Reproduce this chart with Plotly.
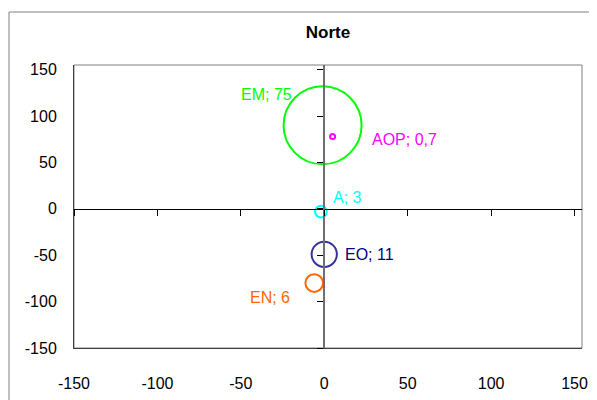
import plotly.graph_objects as go

# ---- data ----
names = ["EM", "AOP", "A", "EO", "EN"]
x_vals = [-1, 5, -2, 0, -6]
y_vals = [90, 78, -3, -49, -80]
sizes = [75, 0.7, 3, 11, 6]
tick_vals = [-150, -100, -50, 0, 50, 100, 150]
tick_text = ["-150", "-100", "-50", "0", "50", "100", "150"]
title_text = "Norte"

# ---- styles ----
circle_colors = ["#00FF00", "#FF00FF", "#00FFFF", "#333399", "#FF6600"]
text_colors = ["#00FF00", "#FF00FF", "#00FFFF", "#000080", "#FF6600"]
# label placement: (xanchor, xshift px, yshift px)
label_pos = [("right", -29, 31), ("left", 37, -3), ("left", 10, 14),
             ("left", 19, 0), ("right", -22, -14)]

FONT = "Liberation Sans, Arial, sans-serif"
FS = 16
x_range = [-150, 154.5]
y_range = [-150, 155]

# page body adds an 8px offset, so the figure is sized/margined to compensate
W, H = 589, 392
ML, MR, MT, MB = 66, 15, 57, 52
PW, PH = W - ML - MR, H - MT - MB


def diam(v):
    return 78 * (v / 75) ** 0.588


def fmt(v):
    return f"{v:g}".replace(".", ",")


fig = go.Figure()
for i, n in enumerate(names):
    fig.add_trace(go.Scatter(
        x=[x_vals[i]], y=[y_vals[i]], mode="markers",
        marker=dict(size=diam(sizes[i]), color="rgba(0,0,0,0)",
                    line=dict(color=circle_colors[i], width=2)),
        showlegend=False, hoverinfo="skip", cliponaxis=False))
    xa, xs, ys = label_pos[i]
    fig.add_annotation(x=x_vals[i], y=y_vals[i], xref="x", yref="y",
                       text=f"{n}; {fmt(sizes[i])}", showarrow=False,
                       xanchor=xa, yanchor="middle", xshift=xs, yshift=ys,
                       font=dict(family=FONT, size=FS, color=text_colors[i]))

# dummy trace for overlay axes (crossing axes at zero)
fig.add_trace(go.Scatter(x=[None], y=[None], xaxis="x2", yaxis="y2",
                         showlegend=False, hoverinfo="skip"))

xzero = (0 - x_range[0]) / (x_range[1] - x_range[0])
yzero = (0 - y_range[0]) / (y_range[1] - y_range[0])

fig.update_layout(
    width=W, height=H,
    margin=dict(l=ML, r=MR, t=MT, b=MB, pad=0, autoexpand=False),
    paper_bgcolor="white", plot_bgcolor="white",
    font=dict(family=FONT, size=FS, color="black"),
    title=dict(text=f"<b>{title_text}</b>", x=0.5, xref="paper",
               y=1 - 24 / H, yref="container", yanchor="middle", xanchor="center",
               font=dict(family=FONT, size=17, color="black")),
    xaxis=dict(range=x_range, tickvals=tick_vals, ticktext=tick_text,
               showgrid=False, zeroline=False, automargin=False,
               showline=True, linecolor="#404040", linewidth=1, ticks="",
               ticklabelstandoff=21, fixedrange=True),
    yaxis=dict(range=y_range, tickvals=tick_vals, ticktext=tick_text,
               showgrid=False, zeroline=False, automargin=False,
               showline=True, linecolor="#404040", linewidth=1, ticks="",
               ticklabelstandoff=13, fixedrange=True),
    xaxis2=dict(range=x_range, overlaying="x", anchor="free", position=yzero,
                side="bottom", tickvals=tick_vals, ticks="outside", ticklen=6,
                tickcolor="black", tickwidth=1, showline=True, linecolor="black",
                linewidth=1, showticklabels=False, showgrid=False, zeroline=False,
                automargin=False, fixedrange=True),
    yaxis2=dict(range=y_range, overlaying="y", anchor="free", position=xzero,
                side="left", tickvals=tick_vals, ticks="outside", ticklen=6,
                tickcolor="black", tickwidth=1, showline=True, linecolor="#707070",
                linewidth=2, showticklabels=False, showgrid=False, zeroline=False,
                automargin=False, fixedrange=True),
    shapes=[
        dict(type="rect", xref="paper", yref="paper", x0=0, y0=0, x1=1, y1=1,
             line=dict(color="#808080", width=1), layer="below"),
        dict(type="rect", xref="paper", yref="paper",
             x0=(1 - ML) / PW, y0=-0.4, x1=1.2, y1=1 + (MT - 4) / PH,
             line=dict(color="#808080", width=1), layer="below"),
    ],
)

fig.write_html("out.html")
